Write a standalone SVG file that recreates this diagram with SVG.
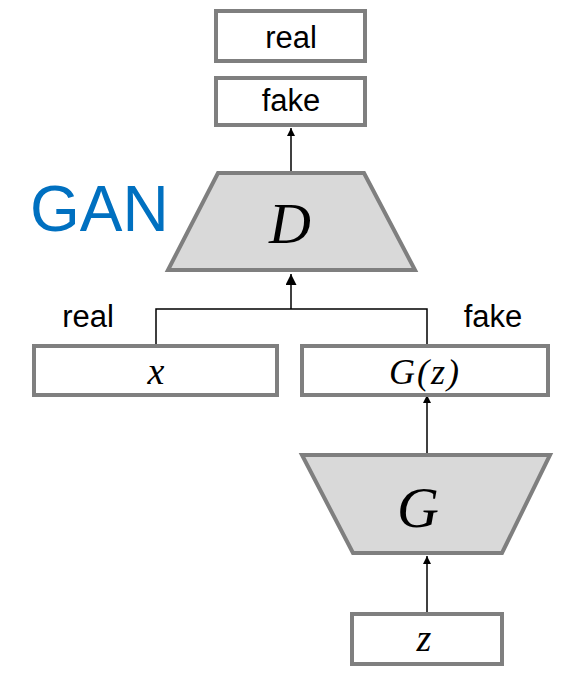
<svg xmlns="http://www.w3.org/2000/svg" width="584" height="692" viewBox="0 0 584 692">
<style>
.box{fill:#fff;stroke:#7f7f7f;stroke-width:4}
.trap{fill:#d9d9d9;stroke:#7f7f7f;stroke-width:4}
.lbl{font-family:"Liberation Sans",Arial,sans-serif;font-size:31px;fill:#000}
.math{font-family:"Liberation Serif","DejaVu Serif",serif;font-style:italic;fill:#000}
.con{stroke:#000;stroke-width:1.5;fill:none}
</style>
<defs>
<marker id="ah" viewBox="0 0 10 10" refX="10" refY="5" markerWidth="8" markerHeight="8" markerUnits="userSpaceOnUse" orient="auto">
<path d="M0,0 L10,5 L0,10 z" fill="#000"/>
</marker>
<marker id="ah2" viewBox="0 0 10 10" refX="10" refY="5" markerWidth="12" markerHeight="11" markerUnits="userSpaceOnUse" orient="auto">
<path d="M0,0 L10,5 L0,10 z" fill="#000"/>
</marker>
</defs>
<g id="connectors">
<line class="con" x1="291" y1="171" x2="291" y2="128" marker-end="url(#ah)"/>
<polyline class="con" points="156,345 156,309 427,309 427,345"/>
<line class="con" x1="291" y1="309" x2="291" y2="274" stroke-width="2" marker-end="url(#ah2)"/>
<line class="con" x1="427" y1="453" x2="427" y2="395" marker-end="url(#ah)"/>
<line class="con" x1="427" y1="613" x2="427" y2="556" marker-end="url(#ah)"/>
</g>
<g id="gan-label"><text x="30" y="231" font-family="'Liberation Sans',Arial,sans-serif" font-size="64" fill="#0070c0">GAN</text></g>
<g id="real-out"><rect class="box" x="216" y="11" width="149" height="50"/><text class="lbl" x="291" y="48" text-anchor="middle">real</text></g>
<g id="fake-out"><rect class="box" x="216" y="78" width="149" height="47"/><text class="lbl" x="291" y="111" text-anchor="middle">fake</text></g>
<g id="D"><polygon class="trap" points="218,173 364,173 415,270 168,270"/><text class="math" x="290" y="243" font-size="58" text-anchor="middle">D</text></g>
<g id="real-label"><text class="lbl" x="88" y="327" text-anchor="middle">real</text></g>
<g id="fake-label"><text class="lbl" x="493" y="327" text-anchor="middle">fake</text></g>
<g id="x"><rect class="box" x="34" y="346" width="243" height="49"/><text class="math" x="156" y="384" font-size="38" text-anchor="middle">x</text></g>
<g id="Gz"><rect class="box" x="302" y="346" width="246" height="49"/><text class="math" x="425" y="384" font-size="36" letter-spacing="2" text-anchor="middle">G(z)</text></g>
<g id="G"><polygon class="trap" points="302,455 550,455 502,553 353,553"/><text class="math" x="418" y="527" font-size="58" text-anchor="middle">G</text></g>
<g id="z"><rect class="box" x="352" y="614" width="150" height="50"/><text class="math" x="424" y="651" font-size="38" text-anchor="middle">z</text></g>
</svg>
